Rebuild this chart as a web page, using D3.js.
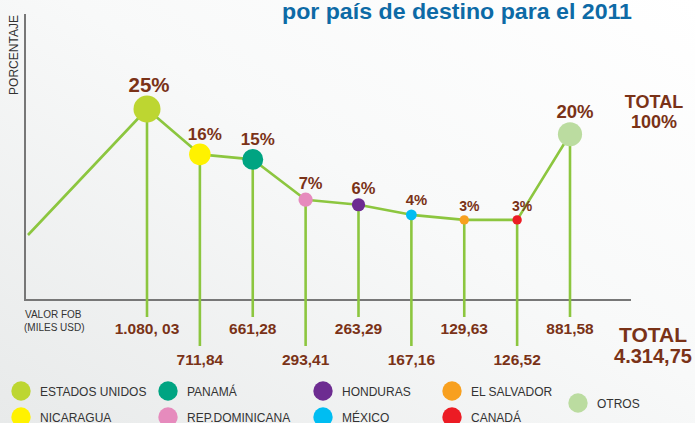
<!DOCTYPE html>
<html><head><meta charset="utf-8">
<script src="https://cdn.jsdelivr.net/npm/d3@7/dist/d3.min.js"></script>
<style>html,body{margin:0;padding:0;background:#fff;}svg{display:block;}</style>
</head><body>
<svg id="chart" width="695" height="423"></svg>
<script>
// ---- data ----
const categories = ["ESTADOS UNIDOS","NICARAGUA","PANAMÁ","REP.DOMINICANA","HONDURAS","MÉXICO","EL SALVADOR","CANADÁ","OTROS"];
const percentages = [25,16,15,7,6,4,3,3,20];
const fobLabels = ["1.080, 03","711,84","661,28","293,41","263,29","167,16","129,63","126,52","881,58"];
const pointColors = ["#bdd631","#fff200","#00a482","#e68bbd","#6d2c91","#00bdf2","#f8a01f","#ec1c24","#bbdca0"];
const legendColumns = [["ESTADOS UNIDOS","NICARAGUA"],["PANAMÁ","REP.DOMINICANA"],["HONDURAS","MÉXICO"],["EL SALVADOR","CANADÁ"],["OTROS"]];
const titleText = "por país de destino para el 2011";
const totalPct = "100%";
const totalFob = "4.314,75";

// ---- layout ----
const W = 695, H = 423;
const axisX = 25, axisTop = 14, axisY = 300, axisRight = 631;
const brown = "#7a3217", green = "#8cc63f", grey = "#777";
const FONT = "'Liberation Sans', Arial, sans-serif";

const svg = d3.select("#chart");
const defs = svg.append("defs");
const grad = defs.append("linearGradient").attr("id","bg").attr("x1","0").attr("y1","1").attr("x2","1").attr("y2","0");
grad.append("stop").attr("offset","0").attr("stop-color","#e8eaea");
grad.append("stop").attr("offset","0.55").attr("stop-color","#f8f9f9");
grad.append("stop").attr("offset","1").attr("stop-color","#ffffff");
svg.append("rect").attr("width",W).attr("height",H).attr("fill","url(#bg)");

const x = d3.scalePoint().domain(categories).range([147,570]);
const y = d3.scaleLinear().domain([0,25]).range([235,109]);
const r = d3.scaleSqrt().domain([0,25]).range([0,13.5]);
const fs = d3.scaleLinear().domain([3,6,16,25]).range([14,16.5,17,20.5]);
const colorOf = d3.scaleOrdinal().domain(categories).range(pointColors);

const data = categories.map((c,i)=>({cat:c, pct:percentages[i], fob:fobLabels[i], i}));

// title
svg.append("text").attr("x",282).attr("y",19).attr("textLength",350).attr("lengthAdjust","spacingAndGlyphs")
  .attr("font-family",FONT).attr("font-weight","bold").attr("font-size",21.5).attr("fill","#0d6aa6").text(titleText);

// axes
svg.append("line").attr("x1",axisX).attr("x2",axisX).attr("y1",axisTop).attr("y2",axisY+1)
  .attr("stroke",grey).attr("stroke-width",2);
svg.append("line").attr("x1",axisX-1).attr("x2",axisRight).attr("y1",axisY).attr("y2",axisY)
  .attr("stroke",grey).attr("stroke-width",2);

svg.append("text").attr("transform",`translate(18,55) rotate(-90)`).attr("text-anchor","middle")
  .attr("font-family",FONT).attr("font-size",12).attr("fill","#333").text("PORCENTAJE");
svg.append("text").attr("x",25).attr("y",318).attr("font-family",FONT).attr("font-size",10).attr("fill","#333").text("VALOR FOB");
svg.append("text").attr("x",24).attr("y",331).attr("font-family",FONT).attr("font-size",10).attr("fill","#333").text("(MILES USD)");

// drop lines
svg.append("g").selectAll("line").data(data).join("line")
  .attr("x1",d=>x(d.cat)).attr("x2",d=>x(d.cat))
  .attr("y1",d=>y(d.pct)).attr("y2",d=> d.i%2 ? 346 : 317)
  .attr("stroke",green).attr("stroke-width",2.6);

// connecting line (starts at 0 next to the axis)
const linePts = [{px:axisX+3, py:y(0)}].concat(data.map(d=>({px:x(d.cat), py:y(d.pct)})));
svg.append("path").datum(linePts)
  .attr("d", d3.line().x(d=>d.px).y(d=>d.py))
  .attr("fill","none").attr("stroke",green).attr("stroke-width",2.6).attr("stroke-linejoin","round");

// points
svg.append("g").selectAll("circle").data(data).join("circle")
  .attr("cx",d=>x(d.cat)).attr("cy",d=>y(d.pct)).attr("r",d=>r(d.pct)).attr("fill",d=>colorOf(d.cat));

// percentage labels
svg.append("g").selectAll("text").data(data).join("text")
  .attr("x",d=>x(d.cat)+ (d.i===0?2:5)).attr("y",d=>y(d.pct)-r(d.pct)-4)
  .attr("text-anchor","middle").attr("font-family",FONT).attr("font-weight","bold")
  .attr("font-size",d=>fs(d.pct)).attr("fill",brown).text(d=>d.pct+"%");

// FOB labels
svg.append("g").selectAll("text").data(data).join("text")
  .attr("x",d=>x(d.cat)).attr("y",d=> d.i%2 ? 365 : 334)
  .attr("text-anchor","middle").attr("font-family",FONT).attr("font-weight","bold")
  .attr("font-size",15.5).attr("fill",brown).text(d=>d.fob);

// totals
const tot = svg.append("g").attr("font-family",FONT).attr("font-weight","bold").attr("fill",brown).attr("text-anchor","middle");
tot.append("text").attr("x",654).attr("y",108).attr("font-size",18).text("TOTAL");
tot.append("text").attr("x",654).attr("y",128).attr("font-size",18).text(totalPct);
tot.append("text").attr("x",653).attr("y",342).attr("font-size",21).text("TOTAL");
tot.append("text").attr("x",653).attr("y",363).attr("font-size",20).text(totalFob);

// legend
const legendColX = [21,168,323,452,578];
const lg = svg.append("g");
legendColumns.forEach((col,ci)=>{
  col.forEach((name,ri)=>{
    const cy = col.length===1 ? 403 : 391 + ri*26;
    lg.append("circle").attr("cx",legendColX[ci]).attr("cy",cy).attr("r",9.7).attr("fill",colorOf(name));
    lg.append("text").attr("x",legendColX[ci]+19).attr("y",cy+4.5).attr("font-family",FONT)
      .attr("font-size",12).attr("fill","#333").text(name);
  });
});
</script>
</body></html>
